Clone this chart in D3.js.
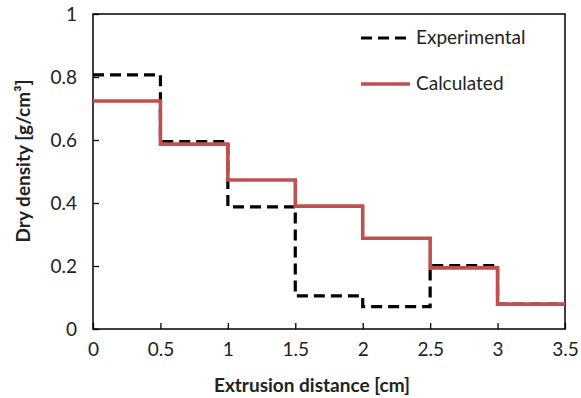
<!DOCTYPE html>
<html><head><meta charset="utf-8">
<script src="https://cdn.jsdelivr.net/npm/d3@7"></script>
<style>body{margin:0;background:#fff}svg{display:block}</style>
</head><body>
<svg id="c" width="581" height="398"></svg>
<script>
const xTicks = [0, 0.5, 1, 1.5, 2, 2.5, 3, 3.5];
const yTicks = [0, 0.2, 0.4, 0.6, 0.8, 1];
const edges = [0, 0.5, 1, 1.5, 2, 2.5, 3, 3.5];
const experimental = [0.807, 0.595, 0.388, 0.105, 0.071, 0.201, 0.079];
const calculated = [0.724, 0.587, 0.473, 0.390, 0.288, 0.194, 0.079];
const seriesNames = ["Experimental", "Calculated"];

const svg = d3.select("#c");
const L = 93, R = 565, T = 14, B = 329;
const x = d3.scaleLinear().domain([0, 3.5]).range([L, R]);
const y = d3.scaleLinear().domain([0, 1]).range([B, T]);
const font = "Lato, 'Open Sans', sans-serif";

function stepPts(vals) {
  const pts = [];
  vals.forEach((v, i) => { pts.push([edges[i], v]); pts.push([edges[i + 1], v]); });
  return pts;
}
const line = d3.line().x(d => x(d[0])).y(d => y(d[1]));

// axes
const xAxis = d3.axisBottom(x).tickValues(xTicks).tickSizeInner(-6).tickSizeOuter(0).tickPadding(14).tickFormat(d3.format("~g"));
const yAxis = d3.axisLeft(y).tickValues(yTicks).tickSizeInner(-6).tickSizeOuter(0).tickPadding(14).tickFormat(d3.format("~g"));
const gx = svg.append("g").attr("transform", `translate(0,${B})`).call(xAxis);
const gy = svg.append("g").attr("transform", `translate(${L},0)`).call(yAxis);
[gx, gy].forEach(g => {
  g.select(".domain").remove();
  g.selectAll("line").attr("stroke", "#000").attr("stroke-width", 1.3);
  g.selectAll("text").attr("font-family", font).attr("font-size", 19).attr("fill", "#222");
});
gy.selectAll("text").attr("dx", "-2");
// frame
svg.append("rect").attr("x", L).attr("y", T).attr("width", R - L).attr("height", B - T)
  .attr("fill", "none").attr("stroke", "#000").attr("stroke-width", 1.5);

// series
svg.append("path").datum(stepPts(experimental)).attr("d", line)
  .attr("fill", "none").attr("stroke", "#000").attr("stroke-width", 3.2)
  .attr("stroke-dasharray", "11,6");
svg.append("path").datum(stepPts(calculated)).attr("d", line)
  .attr("fill", "none").attr("stroke", "#c0504d").attr("stroke-width", 3.6);

// legend
const leg = svg.append("g");
leg.append("line").attr("x1", 361).attr("x2", 410).attr("y1", 38).attr("y2", 38)
  .attr("stroke", "#000").attr("stroke-width", 3.2).attr("stroke-dasharray", "11,6");
leg.append("line").attr("x1", 361).attr("x2", 410).attr("y1", 84).attr("y2", 84)
  .attr("stroke", "#c0504d").attr("stroke-width", 3.6);
leg.append("text").attr("x", 416).attr("y", 44).text(seriesNames[0])
  .attr("font-family", font).attr("font-size", 19).attr("fill", "#222");
leg.append("text").attr("x", 416).attr("y", 90).text(seriesNames[1])
  .attr("font-family", font).attr("font-size", 19).attr("fill", "#222");

// axis titles
svg.append("text").attr("x", 312).attr("y", 392).attr("text-anchor", "middle")
  .attr("font-family", font).attr("font-weight", "bold").attr("font-size", 19).attr("fill", "#222")
  .text("Extrusion distance [cm]");
svg.append("text").attr("transform", "translate(30,161) rotate(-90)").attr("text-anchor", "middle")
  .attr("font-family", font).attr("font-weight", "bold").attr("font-size", 19).attr("fill", "#222")
  .text("Dry density [g/cm³]");
</script>
</body></html>
